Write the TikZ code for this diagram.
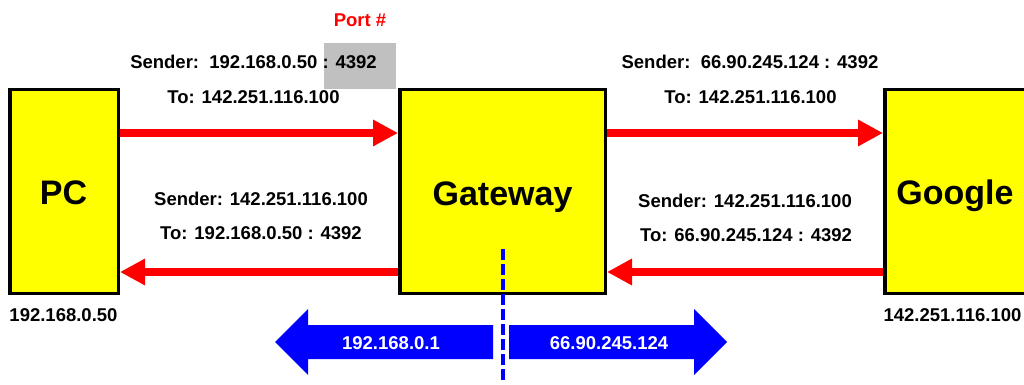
\documentclass[tikz,border=0pt]{standalone}
\usepackage{fontspec}
\setmainfont{Liberation Sans}
\usetikzlibrary{arrows.meta}
\definecolor{boxyellow}{HTML}{FFFF00}
\definecolor{msgred}{HTML}{FF0000}
\definecolor{netblue}{HTML}{0000FF}
\definecolor{portgray}{HTML}{C0C0C0}
\begin{document}
\begin{tikzpicture}[x=1pt,y=-1pt,
  hostbox/.style={draw=black, line width=3.5pt, fill=boxyellow, minimum height=204pt, inner sep=0pt},
  bigtext/.style={font=\bfseries\fontsize{34}{40}\selectfont, anchor=base, inner sep=0pt},
  lbl/.style={font=\bfseries\fontsize{18.5}{22}\selectfont, anchor=base, inner sep=0pt},
  redarrow/.style={draw=msgred, line width=8pt, -{Triangle[length=25pt,width=25pt]}},
  bluearrow/.style={fill=netblue},
  divider/.style={draw=netblue, line width=3.5pt, dash pattern=on 11pt off 4pt},
]
\useasboundingbox (0,0) rectangle (1024,385);

% grey port highlight
\node[fill=portgray, minimum width=72pt, minimum height=46pt, inner sep=0pt] (portbg) at (360,66) {};

% hosts
\node[hostbox, minimum width=108.5pt] (pc) at (64,191.5) {};
\node[hostbox, minimum width=205.5pt] (gw) at (502.5,191.5) {};
\node[hostbox, minimum width=140.5pt] (gg) at (955,191.5) {};

\node[bigtext] (pct) at (63.5,204.7) {PC};
\node[bigtext] (gwt) at (502.5,205) {Gateway};
\node[bigtext] (ggt) at (955,204.5) {Google};

% red message arrows
\draw[redarrow] ([yshift=58.5pt]pc.east) -- ([yshift=58.5pt]gw.west);
\draw[redarrow] ([yshift=58.5pt]gw.east) -- ([yshift=58.5pt]gg.west);
\draw[redarrow] ([yshift=-80.5pt]gg.west) -- ([yshift=-80.5pt]gw.east);
\draw[redarrow] ([yshift=-80.5pt]gw.west) -- ([yshift=-80.5pt]pc.east);

% labels
\node[lbl, text=msgred] (port) at (360,26.6) {Port \#};
\node[lbl] (m1a) at (253.5,68.6) {Sender:\ \ 192.168.0.50 : 4392};
\node[lbl] (m1b) at (253.5,103.6) {To: 142.251.116.100};
\node[lbl] (m2a) at (750,68.6) {Sender:\ \ 66.90.245.124 : 4392};
\node[lbl] (m2b) at (750.5,103.6) {To: 142.251.116.100};
\node[lbl] (m3a) at (261,205.6) {Sender: 142.251.116.100};
\node[lbl] (m3b) at (261,239.6) {To: 192.168.0.50 : 4392};
\node[lbl] (m4a) at (745,207.6) {Sender: 142.251.116.100};
\node[lbl] (m4b) at (746,241.6) {To: 66.90.245.124 : 4392};

\node[lbl] (pcip) at (63.5,321.6) {192.168.0.50};
\node[lbl] (ggip) at (952.5,321.6) {142.251.116.100};

% blue interface arrows
\fill[bluearrow] (275,342) -- (308,309) -- (308,325) -- (493,325) -- (493,359) -- (308,359) -- (308,375) -- cycle;
\fill[bluearrow] (509,325) -- (694,325) -- (694,309) -- (727,342) -- (694,375) -- (694,359) -- (509,359) -- cycle;
\node[lbl, text=white] (lanip) at (391,349.6) {192.168.0.1};
\node[lbl, text=white] (wanip) at (609,349.6) {66.90.245.124};

% dashed divider
\coordinate (dtop) at (503,249);
\coordinate (dbot) at (503,383);
\draw[divider] (dtop) -- (dbot);
\end{tikzpicture}
\end{document}
